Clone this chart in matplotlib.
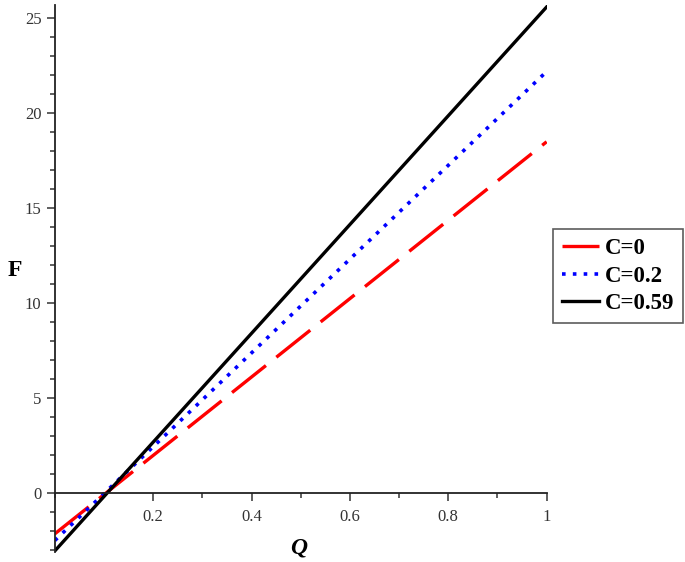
import matplotlib.pyplot as plt
from matplotlib.ticker import MultipleLocator, FixedLocator

# values
q = [0.0, 0.2, 0.4, 0.6, 0.8, 1.0]
f_c0 = [-2.15, 1.98, 6.11, 10.24, 14.37, 18.5]
f_c02 = [-2.5, 2.44, 7.38, 12.32, 17.26, 22.2]
f_c059 = [-3.05, 2.68, 8.41, 14.14, 19.87, 25.6]
labels = ["C=0", "C=0.2", "C=0.59"]

plt.rcParams['font.family'] = ['Liberation Serif', 'DejaVu Serif']

fig = plt.figure(figsize=(6.85, 5.62), dpi=100)
ax = fig.add_axes([0.080, 0.018, 0.718, 0.973])

ax.plot(q, f_c0, color='red', linewidth=2.4, dashes=(13, 4), label=labels[0])
ax.plot(q, f_c02, color='blue', linewidth=2.6, linestyle=(0, (1, 2)), label=labels[1])
ax.plot(q, f_c059, color='black', linewidth=2.4, label=labels[2])

ax.set_xlim(0, 1)
ax.set_ylim(-3.1, 25.7)

for s in ['top', 'right']:
    ax.spines[s].set_visible(False)
ax.spines['left'].set_position(('data', 0))
ax.spines['bottom'].set_position(('data', 0))
for s in ['left', 'bottom']:
    ax.spines[s].set_linewidth(1.3)
    ax.spines[s].set_color('#222222')

ax.xaxis.set_major_locator(FixedLocator([0.2, 0.4, 0.6, 0.8, 1.0]))
ax.xaxis.set_minor_locator(MultipleLocator(0.1))
ax.set_xticklabels(["0.2", "0.4", "0.6", "0.8", "1"])
ax.yaxis.set_major_locator(FixedLocator([0, 5, 10, 15, 20, 25]))
ax.yaxis.set_minor_locator(MultipleLocator(1))

ax.tick_params(axis='both', which='major', length=5.5, width=1.1, labelsize=12,
               colors='#333333', direction='out')
ax.tick_params(axis='both', which='minor', length=3.5, width=1.1,
               colors='#333333', direction='out')
ax.tick_params(axis='y', pad=4)
ax.tick_params(axis='x', pad=6)

fig.text(299 / 685, 1 - 548 / 562, "Q", fontsize=17, fontstyle='italic',
         fontweight='bold', ha='center', va='center')
fig.text(15 / 685, 1 - 271 / 562, "F", fontsize=17, fontweight='bold',
         ha='center', va='center')

leg = fig.legend(loc='upper left', bbox_to_anchor=(553 / 685, 1 - 229 / 562),
                 prop={'weight': 'bold', 'size': 16.5}, frameon=True,
                 fancybox=False, edgecolor='#333333', handlelength=1.6,
                 handletextpad=0.25, borderpad=0.4, labelspacing=0.28,
                 borderaxespad=0)
leg.get_frame().set_linewidth(1.2)

fig.savefig("out.png", dpi=100)
